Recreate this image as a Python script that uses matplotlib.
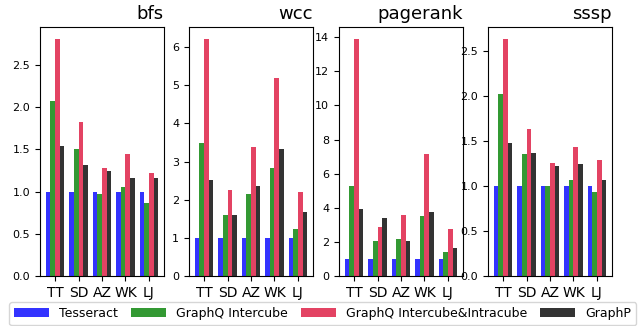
import numpy as np
import matplotlib
matplotlib.use("Agg")
import matplotlib.pyplot as plt

graphs = ["TT", "SD", "AZ", "WK", "LJ"]
systems = ["Tesseract", "GraphQ Intercube", "GraphQ Intercube&Intracube", "GraphP"]
colors = ["blue", "green", "crimson", "black"]

bfs = [
    [1.0, 1.0, 1.0, 1.0, 1.0],
    [2.07, 1.50, 0.97, 1.06, 0.87],
    [2.81, 1.82, 1.28, 1.45, 1.22],
    [1.54, 1.31, 1.25, 1.16, 1.16],
]
wcc = [
    [1.0, 1.0, 1.0, 1.0, 1.0],
    [3.48, 1.60, 2.15, 2.83, 1.23],
    [6.22, 2.26, 3.38, 5.20, 2.20],
    [2.52, 1.60, 2.36, 3.33, 1.68],
]
pagerank = [
    [1.0, 1.0, 1.0, 1.0, 1.0],
    [5.27, 2.04, 2.16, 3.51, 1.39],
    [13.9, 2.86, 3.57, 7.16, 2.75],
    [3.92, 3.39, 2.04, 3.75, 1.63],
]
sssp = [
    [1.0, 1.0, 1.0, 1.0, 1.0],
    [2.03, 1.36, 1.0, 1.07, 0.94],
    [2.64, 1.64, 1.26, 1.44, 1.29],
    [1.48, 1.37, 1.23, 1.25, 1.07],
]
panels = [("bfs", bfs), ("wcc", wcc), ("pagerank", pagerank), ("sssp", sssp)]

W, H = 641, 326
fig = plt.figure(figsize=(W / 100, H / 100), dpi=100)

x = np.arange(len(graphs))
bw = 0.2
lefts = [40, 189, 339, 488]
for left, (name, data) in zip(lefts, panels):
    ax = fig.add_axes([left / W, 1 - 276 / H, 124 / W, 249 / H])
    for i, vals in enumerate(data):
        ax.bar(x + (i - 1.5) * bw, vals, bw, color=colors[i], alpha=0.8,
               label=systems[i])
    ax.set_xticks(x)
    ax.set_xticklabels(graphs, fontsize=10)
    ax.tick_params(axis="y", labelsize=8)
    ax.set_title(name, loc="right", fontsize=13)

handles, labels = ax.get_legend_handles_labels()
fig.legend(handles, labels, ncol=4, loc="lower left", mode="expand",
           bbox_to_anchor=(9 / W, 1 / H, 627 / W, 23 / H), fontsize=9,
           borderaxespad=0, handlelength=2.8)

fig.savefig("out.png", dpi=100)
